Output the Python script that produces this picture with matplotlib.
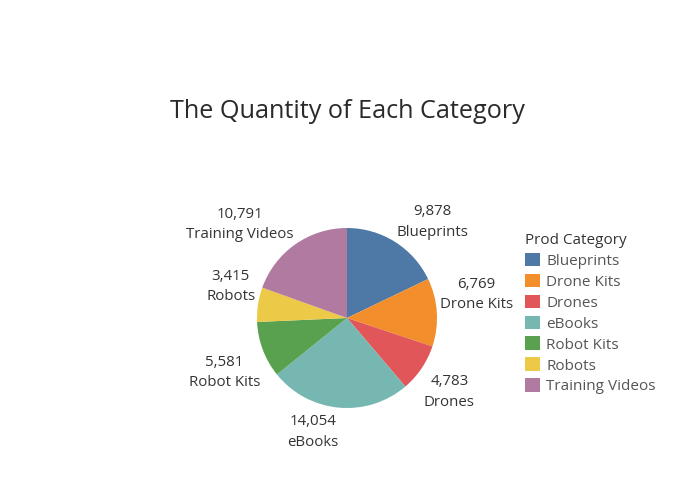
import numpy as np
import matplotlib
matplotlib.use("Agg")
import matplotlib.pyplot as plt
from matplotlib.patches import Patch

plt.rcParams['font.family'] = ['Open Sans', 'DejaVu Sans']

# data
categories = ['Blueprints', 'Drone Kits', 'Drones', 'eBooks', 'Robot Kits', 'Robots', 'Training Videos']
quantities = [9878, 6769, 4783, 14054, 5581, 3415, 10791]
colors = ['#4e79a7', '#f28e2b', '#e15759', '#76b7b2', '#59a14f', '#edc948', '#b07aa1']

W, H = 685, 478
fig = plt.figure(figsize=(W / 100, H / 100), dpi=100)

# pie centred at (347, 318) px, radius 90 px
cx, cy, r = 347, 318, 90
ax = fig.add_axes([(cx - r) / W, (H - cy - r) / H, 2 * r / W, 2 * r / H])
wedges, _ = ax.pie(quantities, colors=colors, startangle=90, counterclock=False,
                   radius=1, wedgeprops=dict(linewidth=0))
ax.set_xlim(-1, 1)
ax.set_ylim(-1, 1)
ax.set_aspect('equal')
ax.axis('off')

# outside labels: nearest corner of the text box sits on the mid-angle ray
for w, cat, q in zip(wedges, categories, quantities):
    mid = np.deg2rad((w.theta1 + w.theta2) / 2)
    x, y = 1.03 * np.cos(mid), 1.03 * np.sin(mid)
    ha = 'left' if x >= 0 else 'right'
    va = 'bottom' if y >= 0 else 'top'
    dy = 0 if y >= 0 else -3
    ax.annotate(f"{q:,}\n{cat}", (x, y), xytext=(0, dy), textcoords='offset points',
                ha=ha, va=va, multialignment='center', fontsize=10.8,
                color='#333333', linespacing=1.5, annotation_clip=False)

fig.text(cx / W, 1 - 111 / H, 'The Quantity of Each Category', ha='center', va='center',
         fontsize=18.2, color='#2a2a2a')

handles = [Patch(facecolor=c, edgecolor='none') for c in colors]
leg = fig.legend(handles, categories, loc='upper left',
                 bbox_to_anchor=(511 / W, 1 - 219 / H), frameon=False,
                 title='Prod Category', fontsize=11, title_fontsize=11,
                 handlelength=1.0, handleheight=1.0, handletextpad=0.4,
                 labelspacing=0.32, alignment='left')
for t in leg.get_texts():
    t.set_color('#555555')
leg.get_title().set_color('#333333')

fig.savefig('out.png', dpi=100)
